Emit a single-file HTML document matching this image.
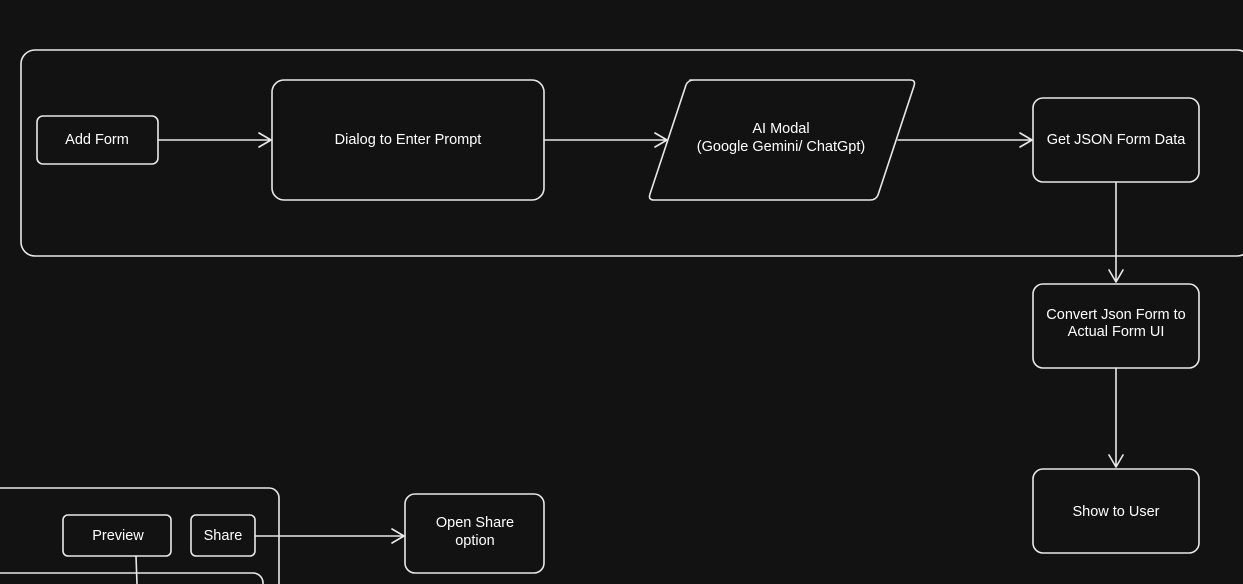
<!DOCTYPE html>
<html><head><meta charset="utf-8"><style>
html,body{margin:0;padding:0;background:#121212;}
svg{display:block}
text{font-family:"Liberation Sans",sans-serif;font-size:14.5px;fill:#fff;}
</style></head><body>
<svg width="1243" height="584" viewBox="0 0 1243 584" xmlns="http://www.w3.org/2000/svg">
<rect width="1243" height="584" fill="#121212"/>
<g fill="none" stroke="#e8e8e8" stroke-width="1.6" stroke-linecap="round" stroke-linejoin="round">
<rect x="21" y="50" width="1230" height="206" rx="14"/>
<rect x="37" y="116" width="121" height="48" rx="6"/>
<rect x="272" y="80" width="272" height="120" rx="12"/>
<path d="M690 80 L910 80 Q916 80 914 86 L878 195 Q876 200 870 200 L654 200 Q648 200 650 194 L686 85 Q688 80 694 80 Z"/>
<rect x="1033" y="98" width="166" height="84" rx="10"/>
<rect x="1033" y="284" width="166" height="84" rx="10"/>
<rect x="1033" y="469" width="166" height="84" rx="10"/>
<rect x="-20" y="488" width="299" height="120" rx="10"/>
<rect x="-20" y="573" width="283" height="40" rx="10"/>
<rect x="63" y="515" width="108" height="41" rx="5"/>
<rect x="191" y="515" width="64" height="41" rx="5"/>
<rect x="405" y="494" width="139" height="79" rx="10"/>
<path d="M158 140 L271 140 M259 133 L271 140 L259 147"/>
<path d="M544 140 L667 140 M655 133 L667 140 L655 147"/>
<path d="M898 140 L1032 140 M1020 133 L1032 140 L1020 147"/>
<path d="M1116 182 L1116 282 M1109 270 L1116 282 L1123 270"/>
<path d="M1116 368 L1116 467 M1109 455 L1116 467 L1123 455"/>
<path d="M255 536 L404 536 M392 529 L404 536 L392 543"/>
<path d="M136 556 L137 584"/>
</g>
<g text-anchor="middle">
<text x="97" y="144">Add Form</text>
<text x="408" y="144">Dialog to Enter Prompt</text>
<text x="781" y="133">AI Modal</text>
<text x="781" y="151">(Google Gemini/ ChatGpt)</text>
<text x="1116" y="144">Get JSON Form Data</text>
<text x="1116" y="319">Convert Json Form to</text>
<text x="1116" y="336">Actual Form UI</text>
<text x="1116" y="516">Show to User</text>
<text x="118" y="540">Preview</text>
<text x="223" y="540">Share</text>
<text x="475" y="527">Open Share</text>
<text x="475" y="545">option</text>
</g>
</svg>
</body></html>
